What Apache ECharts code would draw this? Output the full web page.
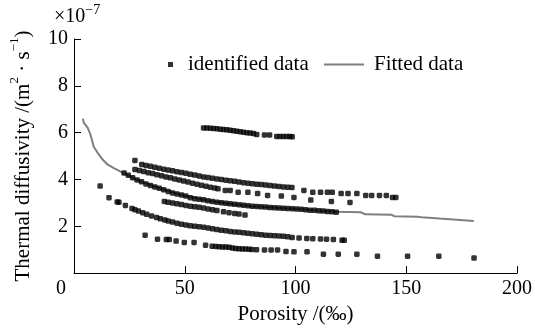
<!DOCTYPE html>
<html><head><meta charset="utf-8">
<script src="https://cdn.jsdelivr.net/npm/echarts@6/dist/echarts.min.js"></script>
<style>html,body{margin:0;padding:0;background:#fff}#c{width:535px;height:330px}</style>
</head><body><div id="c"></div>
<script>
// Porosity (‰) vs thermal diffusivity (×10^-7 m²/s)
const groupA = [[58.5,6.20],[60,6.20],[61.5,6.19],[63,6.18],[64.5,6.17],[66,6.15],[67.5,6.13],[69,6.12],[70.5,6.10],[72,6.08],[73.5,6.06],[75,6.04],[76.5,6.02],[78,6.00],[79.5,5.98],[81,5.96],[82.5,5.92],[86,5.90],[88.3,5.90],[91.5,5.84],[93,5.84],[94.5,5.84],[96,5.83],[97.5,5.83],[98.5,5.82]];
const groupB1 = [[27.5,4.81],[30.6,4.64],[32.5,4.60],[34.5,4.56],[36.5,4.52],[38.5,4.48],[40.5,4.44],[42.5,4.40],[44.5,4.37],[46.5,4.33],[48.5,4.30],[50.5,4.26],[52.5,4.22],[54.5,4.19],[56.5,4.15],[58.5,4.11],[60.5,4.08],[62.5,4.05],[64.5,4.02],[66.5,4.00],[68.5,3.97],[70.5,3.94],[72.5,3.92],[74.5,3.89],[76.5,3.86],[78.5,3.84],[80.5,3.82],[82.5,3.80],[84.5,3.78],[86.5,3.76],[88.5,3.74],[90.5,3.72],[92.5,3.70],[94.5,3.68],[96.5,3.67],[98.4,3.66],[103.8,3.53],[107.8,3.45],[111.3,3.45],[114.4,3.45],[116.6,3.45],[120.6,3.40],[123.7,3.40],[127.7,3.40],[131.7,3.32],[134.4,3.32],[137.9,3.32],[141.0,3.32],[143.8,3.23],[145.3,3.23]];
const groupB2 = [[27.5,4.43],[29.5,4.38],[31.5,4.34],[33.5,4.29],[35.5,4.25],[37.5,4.20],[39.5,4.16],[41.5,4.11],[43.5,4.07],[45.5,4.02],[47.5,3.98],[49.5,3.93],[51.5,3.89],[53.5,3.84],[55.5,3.80],[57.5,3.75],[59.5,3.71],[61.5,3.67],[63.5,3.63],[65.0,3.60],[68.3,3.53],[70.5,3.53],[74.1,3.45],[78.5,3.45],[82.9,3.40],[87.4,3.32],[93.6,3.29],[99.3,3.23],[106.9,3.12],[116.2,3.06],[124.6,3.02]];
const groupC = [[22.6,4.28],[24.5,4.18],[26.5,4.07],[28.5,3.98],[30.5,3.90],[32.5,3.81],[34.5,3.74],[36.5,3.68],[38.5,3.62],[40.5,3.56],[42.5,3.49],[44.5,3.42],[46.5,3.38],[48.5,3.34],[50.5,3.29],[52.5,3.22],[54.5,3.18],[56.5,3.15],[58.5,3.13],[60.5,3.09],[62.5,3.06],[64.5,3.03],[66.5,3.01],[68.5,2.98],[70.5,2.96],[72.5,2.94],[74.5,2.92],[76.5,2.90],[78.5,2.88],[80.5,2.86],[82.5,2.85],[84.5,2.83],[86.5,2.82],[88.5,2.80],[90.5,2.79],[92.5,2.78],[94.5,2.77],[96.5,2.76],[98.5,2.75],[100.5,2.74],[102.5,2.73],[104.5,2.71],[106.5,2.69],[108.5,2.68],[110.5,2.66],[112.5,2.65],[114.5,2.63],[116.5,2.62],[118.4,2.60]];
const groupD = [[40.8,3.06],[42.5,3.03],[44.5,2.99],[46.5,2.96],[48.5,2.93],[50.5,2.89],[52.5,2.86],[54.5,2.83],[56.5,2.81],[58.5,2.78],[60.5,2.74],[62.5,2.71],[64.5,2.67],[67.5,2.62],[70.0,2.58],[72.5,2.55],[74.5,2.52],[77.2,2.48]];
const groupE = [[11.8,3.72],[15.8,3.22],[19.5,3.04],[20.3,3.03],[23.2,2.89],[26.2,2.76],[27.5,2.71],[29.1,2.65],[31.0,2.58],[32.8,2.51],[35.0,2.44],[37.3,2.37],[39.0,2.32],[41.0,2.27],[42.5,2.23],[44.5,2.18],[46.5,2.13],[48.5,2.09],[50.5,2.06],[52.5,2.02],[54.5,2.00],[56.5,1.98],[58.5,1.96],[60.5,1.93],[62.5,1.89],[64.5,1.86],[66.5,1.83],[68.5,1.81],[70.5,1.78],[72.5,1.76],[74.5,1.74],[76.5,1.72],[78.5,1.70],[80.5,1.68],[82.5,1.66],[84.5,1.64],[86.5,1.62],[88.5,1.61],[90.5,1.60],[92.5,1.59],[94.5,1.57],[96.5,1.55],[98.5,1.52],[101.6,1.50],[105.1,1.48],[107.8,1.47],[111.3,1.46],[114.0,1.45],[117.1,1.44],[121.0,1.40],[122.0,1.40]];
const groupF = [[32.1,1.62],[37.7,1.45],[41.7,1.43],[43.0,1.43],[46.1,1.37],[49.8,1.31],[54.2,1.31],[59.4,1.19],[62.4,1.15],[64.0,1.14],[65.5,1.13],[67.0,1.12],[68.5,1.11],[70.0,1.10],[71.5,1.07],[73.0,1.05],[74.5,1.04],[76.0,1.03],[77.5,1.03],[79.0,1.02],[80.3,1.01],[82.4,1.00],[86.0,0.99],[89.0,0.99],[91.9,0.99],[95.7,0.92],[99.3,0.91],[105.2,0.91],[112.6,0.81],[119.3,0.81],[127.7,0.81],[137.0,0.72],[150.6,0.72],[164.7,0.72],[180.6,0.64]];
const fitted = [[4.0,6.60],[4.4,6.43],[6.2,6.20],[7.5,5.90],[8.9,5.40],[10.6,5.15],[12.9,4.85],[15.1,4.64],[18.2,4.47],[21.7,4.30],[30,3.92],[40,3.58],[50,3.30],[60,3.10],[70,2.96],[80,2.86],[90,2.80],[100,2.74],[110,2.67],[118.4,2.62],[129.5,2.60],[131.5,2.51],[143.5,2.49],[144.5,2.43],[155,2.41],[157,2.39],[165,2.33],[180.5,2.23]];
const xTicks = [0,50,100,150,200];
const yTicks = [2,4,6,8,10];

const FONT = 'Liberation Serif';
const chart = echarts.init(document.getElementById('c'), null, {renderer:'canvas'});
chart.setOption({
  animation:false,
  textStyle:{fontFamily:FONT, color:'#000'},
  grid:{left:71, right:13, top:39, bottom:56},
  legend:[
    {data:[{name:'identified data', icon:'rect'}], left:163, top:49, itemWidth:5, itemHeight:5,
     textStyle:{fontFamily:FONT, fontSize:21, color:'#000', padding:[0,0,0,10]}},
    {data:[{name:'Fitted data', icon:'rect'}], left:319, top:49, itemWidth:40, itemHeight:2,
     textStyle:{fontFamily:FONT, fontSize:21, color:'#000', padding:[0,0,0,5]}}
  ],
  graphic:[{type:'text', left:54, top:3, style:{
    text:'{b|×10}{s|−7}', fontFamily:FONT,
    rich:{b:{fontSize:20, fontFamily:FONT, lineHeight:24, verticalAlign:'bottom'}, s:{fontSize:14, fontFamily:FONT, verticalAlign:'top', lineHeight:24}}
  }}],
  xAxis:{type:'value', min:0, max:200, interval:50,
    name:'Porosity /(‰)', nameLocation:'middle', nameGap:30,
    nameTextStyle:{fontFamily:FONT, fontSize:21, color:'#000'},
    axisLine:{lineStyle:{color:'#000', width:1}},
    axisTick:{show:true, inside:true, length:7, lineStyle:{color:'#000'}},
    axisLabel:{fontFamily:FONT, fontSize:20, color:'#000', margin:6,
      formatter:v=> v===0 ? '{z|0}' : String(v),
      rich:{z:{fontFamily:FONT, fontSize:20, padding:[0,26,0,0]}}},
    splitLine:{show:false}},
  yAxis:{type:'value', min:0, max:10, interval:2,
    name:'{a|Thermal diffusivity /(m}{s|2}{a| · s}{s|−1}{a|)}', nameLocation:'middle', nameGap:40,
    nameTextStyle:{fontFamily:FONT, rich:{a:{fontFamily:FONT, fontSize:21, lineHeight:26, verticalAlign:'bottom'}, s:{fontFamily:FONT, fontSize:13, lineHeight:26, verticalAlign:'top'}}},
    axisLine:{show:true, lineStyle:{color:'#000', width:1}},
    axisTick:{show:true, inside:true, length:7, lineStyle:{color:'#000'}},
    axisLabel:{fontFamily:FONT, fontSize:20, color:'#000', margin:6,
      formatter:v=> v===0 ? '' : String(v)},
    splitLine:{show:false}},
  series:[
    {name:'Fitted data', type:'line', data:fitted, showSymbol:false, symbol:'none',
     lineStyle:{color:'#7f7f7f', width:2}, itemStyle:{color:'#7f7f7f'}, z:1},
    {name:'identified data', type:'scatter', symbol:'roundRect', symbolSize:5.5,
     itemStyle:{color:'#000'}, z:2,
     data:[].concat(groupA, groupB1, groupB2, groupC, groupD, groupE, groupF)}
  ]
});
</script></body></html>
